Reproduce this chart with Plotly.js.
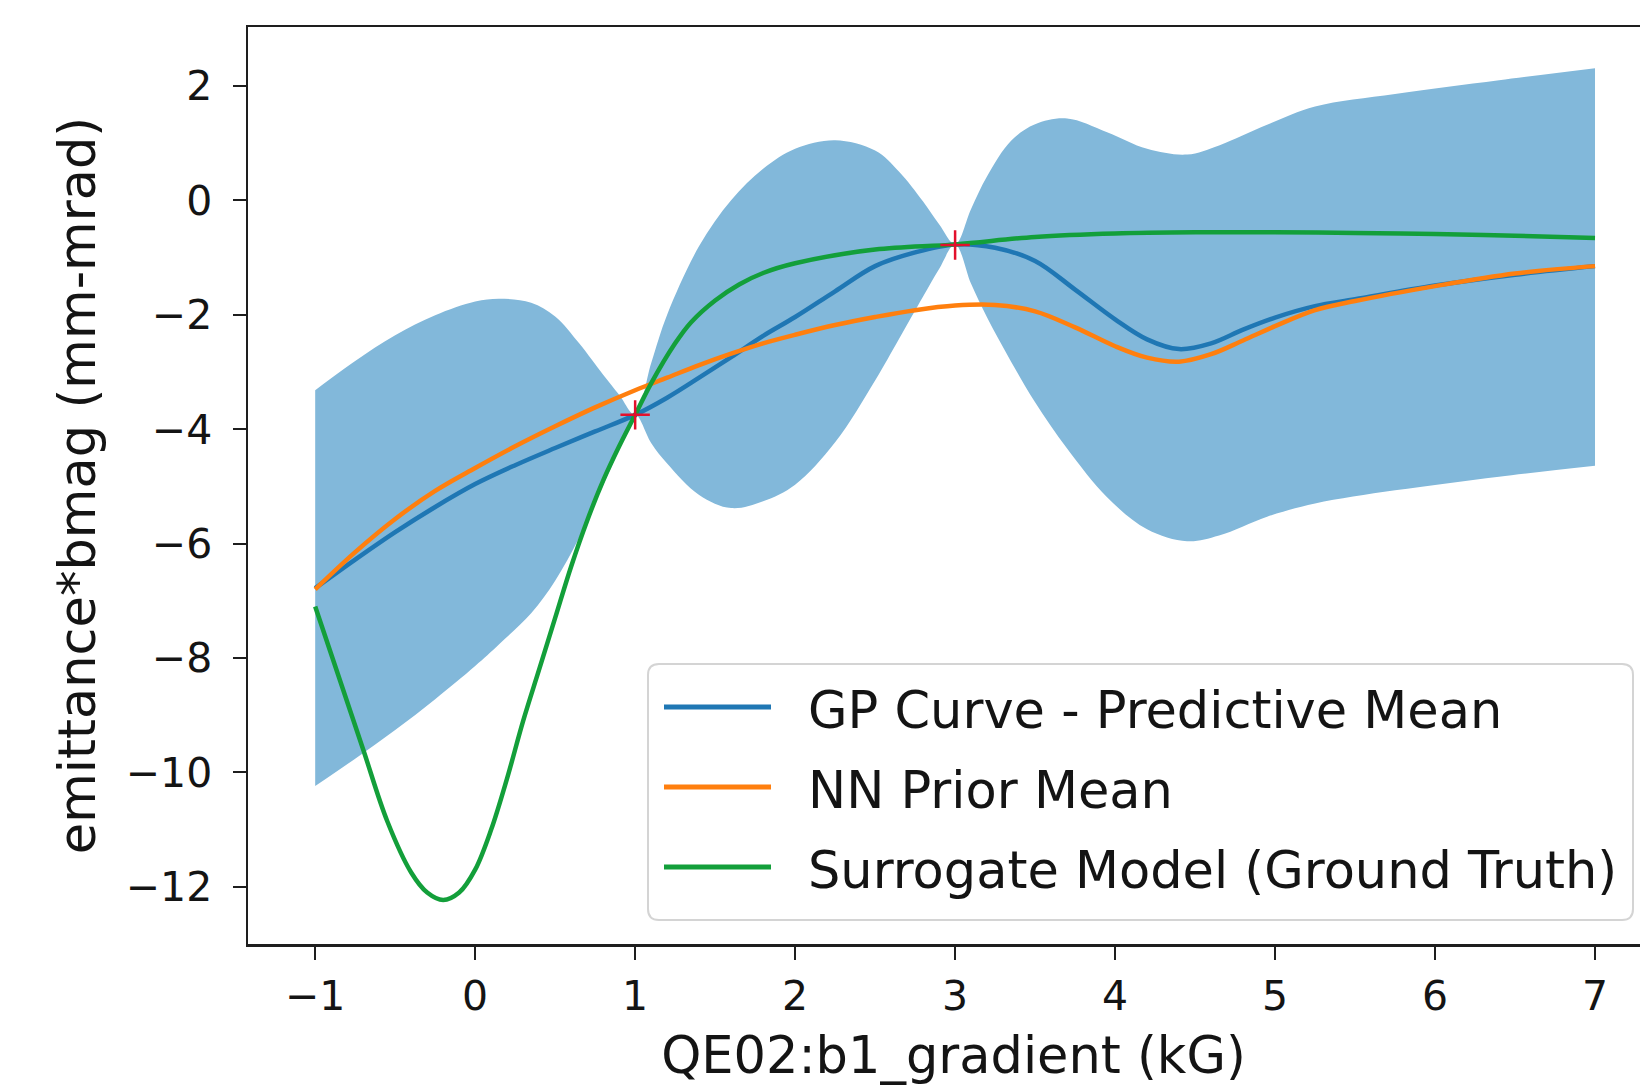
<!DOCTYPE html>
<html>
<head>
<meta charset="utf-8">
<script src="https://cdn.plot.ly/plotly-3.0.1.min.js"></script>
<style>
  html, body { margin: 0; padding: 0; overflow: hidden; background: #ffffff; }
  #chart { width: 1659px; height: 1091px; }
</style>
</head>
<body>
<div id="chart"></div>
<script>
// ---------------- data ----------------
const bandX = [-1.0, -0.75, -0.5, -0.25, 0.0, 0.15, 0.35, 0.5, 0.65, 0.8, 0.9, 1.0, 1.1, 1.2, 1.4, 1.6, 1.8, 2.0, 2.25, 2.5, 2.65, 2.8, 2.9, 3.0, 3.1, 3.2, 3.35, 3.5, 3.7, 3.95, 4.2, 4.45, 4.65, 4.95, 5.25, 5.75, 6.4, 7.0];
const bandUpper = [-3.32, -2.81, -2.36, -2.01, -1.77, -1.72, -1.79, -2.03, -2.50, -3.05, -3.40, -3.75, -2.85, -2.00, -0.80, 0.00, 0.55, 0.90, 1.05, 0.87, 0.50, -0.02, -0.42, -0.77, -0.15, 0.42, 1.04, 1.33, 1.43, 1.19, 0.90, 0.80, 0.96, 1.32, 1.64, 1.86, 2.10, 2.31];
const bandLower = [-10.24, -9.76, -9.26, -8.72, -8.14, -7.76, -7.22, -6.65, -5.90, -4.98, -4.36, -3.75, -4.24, -4.60, -5.15, -5.38, -5.26, -4.97, -4.23, -3.15, -2.42, -1.68, -1.20, -0.77, -1.46, -2.05, -2.82, -3.53, -4.34, -5.19, -5.75, -5.96, -5.86, -5.53, -5.30, -5.07, -4.83, -4.64];

const meanX = [-1, -0.75, -0.5, -0.25, 0, 0.25, 0.5, 0.75, 1.0, 1.2, 1.4, 1.6, 1.8, 2.0, 2.25, 2.5, 2.75, 3.0, 3.25, 3.5, 3.75, 4.0, 4.2, 4.4, 4.6, 4.8, 5.0, 5.25, 5.5, 6.0, 6.5, 7.0];
const gpMean = [-6.78, -6.28, -5.80, -5.36, -4.96, -4.63, -4.33, -4.04, -3.75, -3.45, -3.10, -2.74, -2.37, -2.04, -1.59, -1.15, -0.91, -0.77, -0.83, -1.06, -1.56, -2.08, -2.43, -2.60, -2.50, -2.26, -2.05, -1.85, -1.73, -1.49, -1.30, -1.15];
const nnMean = [-6.80, -6.15, -5.57, -5.08, -4.68, -4.30, -3.95, -3.62, -3.32, -3.10, -2.88, -2.68, -2.50, -2.35, -2.18, -2.04, -1.92, -1.84, -1.83, -1.94, -2.22, -2.55, -2.75, -2.82, -2.69, -2.45, -2.20, -1.92, -1.76, -1.50, -1.28, -1.15];

const truthX = [-1, -0.85, -0.7, -0.55, -0.4, -0.3, -0.2, -0.1, 0, 0.1, 0.2, 0.3, 0.4, 0.5, 0.6, 0.7, 0.8, 0.9, 1.0, 1.1, 1.25, 1.35, 1.5, 1.65, 1.8, 2.0, 2.5, 3.0, 3.5, 4.0, 4.5, 5.0, 5.5, 6.0, 6.5, 7.0];
const truthY = [-7.10, -8.35, -9.60, -10.85, -11.75, -12.10, -12.23, -12.10, -11.70, -11.00, -10.10, -9.10, -8.20, -7.30, -6.40, -5.60, -4.90, -4.30, -3.75, -3.20, -2.50, -2.13, -1.75, -1.47, -1.27, -1.10, -0.86, -0.77, -0.64, -0.58, -0.56, -0.56, -0.57, -0.59, -0.62, -0.66];

const obsX = [1, 3];
const obsY = [-3.75, -0.78];

const xTickVals = [-1, 0, 1, 2, 3, 4, 5, 6, 7];
const xTickText = ['\u22121', '0', '1', '2', '3', '4', '5', '6', '7'];
const yTickVals = [2, 0, -2, -4, -6, -8, -10, -12];
const yTickText = ['2', '0', '\u22122', '\u22124', '\u22126', '\u22128', '\u221210', '\u221212'];

const seriesNames = ['GP Curve - Predictive Mean', 'NN Prior Mean', 'Surrogate Model (Ground Truth)'];
const xTitle = 'QE02:b1_gradient (kG)';
const yTitle = 'emittance*bmag (mm-mrad)';

// ---------------- styles ----------------
const FONT = 'DejaVu Sans, Liberation Sans, sans-serif';
const TXT = '#141414';
const C_BLUE = '#1f77b4', C_ORANGE = '#ff7f0e', C_GREEN = '#139f3a', C_BAND = '#82b8da';
const LW = 4.5;

const W = 1659, H = 1091;
const M = { l: 248, r: 0, t: 27, b: 147 };
const PW = W - M.l - M.r, PH = H - M.t - M.b;
const px = v => (v - M.l) / PW;        // page pixel -> paper x
const py = v => (H - M.b - v) / PH;    // page pixel -> paper y

const traces = [
  { x: bandX, y: bandLower, type: 'scatter', mode: 'lines', line: { width: 0, shape: 'spline', smoothing: 1.0, color: C_BAND },
    hoverinfo: 'skip', showlegend: false },
  { x: bandX, y: bandUpper, type: 'scatter', mode: 'lines', fill: 'tonexty', fillcolor: C_BAND,
    line: { width: 0, shape: 'spline', smoothing: 1.0, color: C_BAND }, hoverinfo: 'skip', showlegend: false },
  { x: meanX, y: gpMean, type: 'scatter', mode: 'lines', name: seriesNames[0],
    line: { color: C_BLUE, width: LW, shape: 'spline', smoothing: 1.0 } },
  { x: meanX, y: nnMean, type: 'scatter', mode: 'lines', name: seriesNames[1],
    line: { color: C_ORANGE, width: LW, shape: 'spline', smoothing: 1.0 } },
  { x: truthX, y: truthY, type: 'scatter', mode: 'lines', name: seriesNames[2],
    line: { color: C_GREEN, width: LW, shape: 'spline', smoothing: 1.0 } },
  { x: obsX, y: obsY, type: 'scatter', mode: 'markers', name: 'observations', showlegend: false,
    marker: { symbol: 'cross-thin', size: 21, color: '#e3102c', line: { color: '#e3102c', width: 2.5 } } }
];

// custom matplotlib-style legend box
const bx0 = 648, bx1 = 1633, by0 = 664, by1 = 920, rr = 11;
const rx = rr / PW, ry = rr / PH;
const X0 = px(bx0), X1 = px(bx1), Y0 = py(by0), Y1 = py(by1);
const boxPath = `M${X0 + rx},${Y0} L${X1 - rx},${Y0} Q${X1},${Y0} ${X1},${Y0 - ry} L${X1},${Y1 + ry} Q${X1},${Y1} ${X1 - rx},${Y1} L${X0 + rx},${Y1} Q${X0},${Y1} ${X0},${Y1 + ry} L${X0},${Y0 - ry} Q${X0},${Y0} ${X0 + rx},${Y0} Z`;

const rowsY = [707, 787, 867];
const rowColors = [C_BLUE, C_ORANGE, C_GREEN];
const shapes = [
  { type: 'path', xref: 'paper', yref: 'paper', path: boxPath, layer: 'above',
    fillcolor: 'rgba(255,255,255,0.85)', line: { color: '#d4d4d4', width: 2 } }
];
const annotations = [];
rowsY.forEach((yy, i) => {
  shapes.push({ type: 'line', xref: 'paper', yref: 'paper', layer: 'above',
    x0: px(664), x1: px(771), y0: py(yy), y1: py(yy), line: { color: rowColors[i], width: 5 } });
  annotations.push({ xref: 'paper', yref: 'paper', x: px(806), y: py(yy + 3), xanchor: 'left', yanchor: 'middle',
    showarrow: false, text: seriesNames[i], font: { family: FONT, size: 51, color: TXT } });
});

const axisCommon = {
  showgrid: false, zeroline: false, showline: true, mirror: true,
  linecolor: '#1e1e1e', linewidth: 2.5,
  ticks: 'outside', ticklen: 13, tickwidth: 2, tickcolor: '#1e1e1e',
  tickfont: { family: FONT, size: 41, color: TXT }
};

const layout = {
  width: W, height: H, margin: M,
  paper_bgcolor: '#ffffff', plot_bgcolor: '#ffffff',
  showlegend: false,
  font: { family: FONT, color: TXT },
  xaxis: Object.assign({}, axisCommon, {
    range: [-1.42, 7.4], tickmode: 'array', tickvals: xTickVals, ticktext: xTickText,
    ticklabelstandoff: 1,
    title: { text: xTitle, font: { family: FONT, size: 51, color: TXT }, standoff: 19 }
  }),
  yaxis: Object.assign({}, axisCommon, {
    range: [-13.0, 3.03], tickmode: 'array', tickvals: yTickVals, ticktext: yTickText,
    ticklabelstandoff: 12,
    title: { text: yTitle, font: { family: FONT, size: 51, color: TXT }, standoff: 14 }
  }),
  shapes: shapes,
  annotations: annotations
};

Plotly.newPlot('chart', traces, layout, { displayModeBar: false, staticPlot: true });
</script>
</body>
</html>
